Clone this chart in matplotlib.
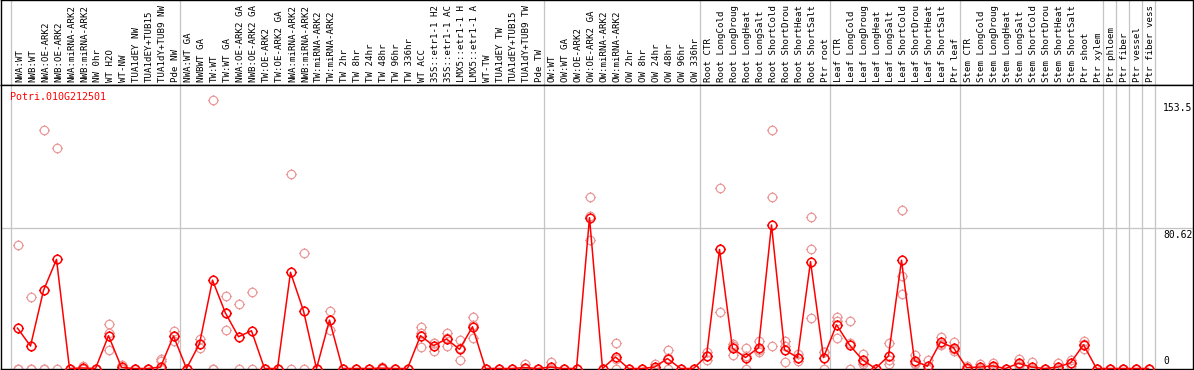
import numpy as np
import matplotlib
matplotlib.use("Agg")
import matplotlib.pyplot as plt
from matplotlib.path import Path

gene_id = "Potri.010G212501"

group_sizes = [13, 28, 12, 10, 10, 11, 1, 1, 1, 1]

# sample names as far as they are shown in the header
labels = [
    "NWA:WT", "NWB:WT", "NWA:OE-ARK2", "NWB:OE-ARK2", "NWA:miRNA-ARK2", "NWB:miRNA-ARK2",
    "NW 0hr", "WT H2O", "WT-NW", "TUA1dEY NW", "TUA1dEY+TUB15", "TUA1dY+TUB9 NW", "Pde NW",
    "NWA:WT GA", "NWBWT GA", "TW:WT", "TW:WT GA", "NWA:OE-ARK2 GA", "NWB:OE-ARK2 GA",
    "TW:OE-ARK2", "TW:OE-ARK2 GA", "NWA:miRNA-ARK2", "NWB:miRNA-ARK2", "TW:miRNA-ARK2",
    "TW:miRNA-ARK2", "TW 2hr", "TW 8hr", "TW 24hr", "TW 48hr", "TW 96hr", "TW 336hr",
    "WT ACC", "35S::etr1-1 H2", "35S::etr1-1 AC", "LMX5::etr1-1 H", "LMX5::etr1-1 A",
    "WT-TW", "TUA1dEY TW", "TUA1dEY+TUB15", "TUA1dY+TUB9 TW", "Pde TW",
    "OW:WT", "OW:WT GA", "OW:OE-ARK2", "OW:OE-ARK2 GA", "OW:miRNA-ARK2", "OW:miRNA-ARK2",
    "OW 2hr", "OW 8hr", "OW 24hr", "OW 48hr", "OW 96hr", "OW 336hr",
    "Root CTR", "Root LongCold", "Root LongDroug", "Root LongHeat", "Root LongSalt",
    "Root ShortCold", "Root ShortDrou", "Root ShortHeat", "Root ShortSalt", "Ptr root",
    "Leaf CTR", "Leaf LongCold", "Leaf LongDroug", "Leaf LongHeat", "Leaf LongSalt",
    "Leaf ShortCold", "Leaf ShortDrou", "Leaf ShortHeat", "Leaf ShortSalt", "Ptr leaf",
    "Stem CTR", "Stem LongCold", "Stem LongDroug", "Stem LongHeat", "Stem LongSalt",
    "Stem ShortCold", "Stem ShortDrou", "Stem ShortHeat", "Stem ShortSalt", "Ptr shoot",
    "Ptr xylem", "Ptr phloem", "Ptr fiber", "Ptr vessel", "Ptr fiber vess",
]

mean_expr = [
    23.1, 12.9, 44.7, 62.5, 0, 0.3, 0, 18.8, 0.6, 0, 0, 0.8, 18.6,
    0, 14.2, 50.6, 31.7, 18.2, 21.6, 0, 0, 55.1, 33.0, 0, 27.7, 0, 0, 0, 0.2, 0, 0,
    18.8, 13.1, 16.9, 11.0, 23.9, 0, 0, 0, 0.5, 0,
    0.8, 0, 0, 86.4, 0, 6.6, 0, 0, 0.8, 5.7, 0, 0,
    7.2, 68.2, 11.5, 6.3, 11.9, 82.2, 10.8, 6.3, 61.2, 6.3,
    25.0, 13.5, 4.9, 0, 7.2, 62.0, 4.4, 1.3, 15.2, 11.9,
    0.5, 0.8, 1.5, 0, 3.0, 0.8, 0, 0.8, 3.2, 13.6, 0,
    0, 0, 0, 0,
]

replicates = [
    [70.9, 0, 0], [40.8, 0, 0], [136.4, 0, 0], [126.2, 0], [0, 0, 0], [1.5, 0, 0],
    [0, 0, 0], [25.6, 20.1, 10.8], [2.1, 0, 0], [0, 0, 0], [0, 0, 0], [5.3, 4.3, 0],
    [21.6, 15.5, 18.7],
    [0, 0, 0], [16.9, 11.5, 14.2], [153.5, 0, 0], [41.3, 22.2, 31.6], [36.8, 0], [43.6, 0],
    [0, 0], [0, 0], [111.4, 0], [66.3, 0], [0, 0], [33.0, 22.2, 27.9], [0, 0], [0, 0],
    [0, 0], [0.8, 0, 0], [0, 0], [0, 0], [23.7, 12.5, 20.2], [14.4, 10.2, 14.7],
    [20.5, 12.7, 17.5], [16.1, 4.9, 12.0], [29.4, 17.2, 25.1], [0, 0], [0, 0], [0, 0],
    [2.3, 0, 0], [0, 0],
    [4.0, 0, 0], [0, 0], [0, 0], [98.4, 73.7, 87.1], [0, 0], [14.6, 5.2, 0], [0, 0],
    [0, 0], [2.3, 0, 0], [10.8, 6.3, 0], [0, 0], [0, 0],
    [9.5, 7.2, 4.9], [103.5, 68.7, 32.4], [14.2, 12.7, 7.6], [12.0, 7.0, 0],
    [15.5, 10.8, 9.5], [136.4, 98.4, 12.9], [15.5, 12.9, 4.0], [8.3, 6.0, 4.5],
    [87.0, 68.2, 29.2], [9.5, 9.4, 0],
    [29.7, 27.4, 17.4], [27.3, 14.8, 0], [8.5, 3.5, 2.7], [0, 0, 0], [14.4, 4.9, 2.3],
    [91.0, 52.9, 42.8], [7.6, 3.3, 2.3], [5.1, 0, 0], [18.2, 13.8, 13.6], [15.0, 11.0, 9.8],
    [1.5, 0, 0], [2.6, 0, 0], [3.4, 1.1, 0], [0, 0, 0], [5.3, 2.3, 1.5], [4.0, 0, 0],
    [0, 0, 0], [3.0, 0, 0], [5.1, 3.0, 1.5], [15.5, 14.0, 11.4], [0, 0, 0],
    [0, 0, 0], [0, 0, 0], [0, 0, 0], [0, 0, 0],
]

y_ticks = [0, 80.62, 153.5]
y_tick_labels = ["0", "80.62", "153.5"]

# circle (as polygon) with four short ticks, like the original marker
ang = np.linspace(0, 2 * np.pi, 41)
circ = Path(np.column_stack([np.cos(ang), np.sin(ang)]), closed=True)
tk = 1.25
ticks = Path([[0, 1], [0, tk], [0, -1], [0, -tk], [1, 0], [tk, 0], [-1, 0], [-tk, 0]],
             [Path.MOVETO, Path.LINETO] * 4)
gear = Path.make_compound_path(circ, ticks)

mono = "DejaVu Sans Mono"
grid_c = "#c4c4c4"
W, H = 1194, 370

fig = plt.figure(figsize=(W / 100, H / 100), dpi=100)
x_lim = ((1 - 17.5) / 13, (1193 - 17.5) / 13)
px_per_unit = 268 / 153.5
y_lim = (-(369 - 368.5) / px_per_unit, (368.5 - 85) / px_per_unit)

head = fig.add_axes([1 / W, 285 / H, 1192 / W, 85 / H])
ax = fig.add_axes([1 / W, 1 / H, 1192 / W, 284 / H])

bounds = np.cumsum([0] + group_sizes) - 0.5
for a in (head, ax):
    a.set_xlim(*x_lim)
    a.set_xticks([])
    a.set_yticks([])
    for b in bounds:
        a.axvline(b, color=grid_c, lw=0.9, zorder=0)
    for s in a.spines.values():
        s.set_linewidth(1.0)
        s.set_color("black")

head.set_ylim(85, 0)
for i, lab in enumerate(labels):
    head.text(i + 0.15, 82, lab, rotation=90, ha="center", va="bottom", family=mono,
              fontsize=6.6, clip_on=True)

ax.set_ylim(*y_lim)
ax.axhline(80.62, color=grid_c, lw=0.9, zorder=0)

x = np.arange(len(mean_expr))
for i, reps in enumerate(replicates):
    ax.plot([i] * len(reps), reps, linestyle="none", marker=gear, markersize=7.6,
            markerfacecolor="none", markeredgecolor="#eb9a9a", markeredgewidth=0.9,
            clip_on=False, zorder=2)
ax.plot(x, mean_expr, color="#ff0000", lw=1.1, marker=gear, markersize=7.6,
        markerfacecolor="none", markeredgecolor="#ff0000", markeredgewidth=1.1,
        clip_on=False, zorder=3)

ax.text((9.6 - 17.5) / 13, 155.5, gene_id, color="#ff0000", family=mono, fontsize=7.2,
        ha="left", va="center")

lab_x = (1163 - 17.5) / 13
for v, t in zip(y_ticks, y_tick_labels):
    if v == 0:
        ax.annotate(t, (lab_x, v), xytext=(0, 2), textcoords="offset points",
                    ha="left", va="bottom", family=mono, fontsize=7)
    else:
        ax.annotate(t, (lab_x, v), xytext=(0, -1.5), textcoords="offset points",
                    ha="left", va="top", family=mono, fontsize=7)

fig.savefig("out.png", dpi=100)
